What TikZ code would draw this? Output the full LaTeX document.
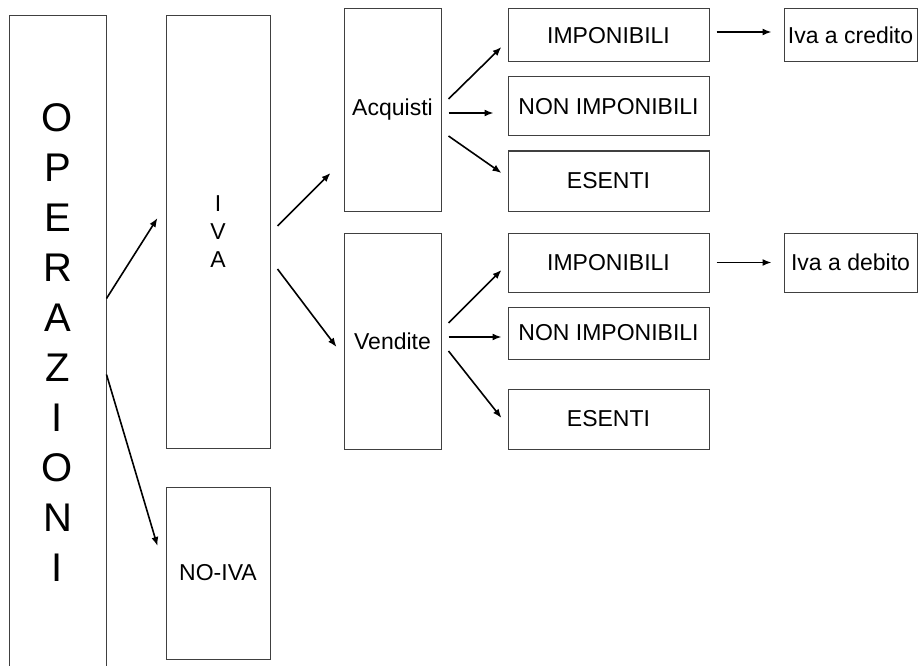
\documentclass[tikz,border=0pt]{standalone}
\usepackage{fontspec}
\setmainfont{Liberation Sans}
\usepackage{tikz}
\usetikzlibrary{positioning,calc,arrows.meta}
\definecolor{boxline}{HTML}{404040}

\tikzset{
  opbox/.style={draw=boxline, line width=1pt, inner sep=0pt, align=center,
    font=\fontsize{23}{28}\selectfont},
  opar/.style={line width=1.6pt, -{Latex[length=9pt,width=7pt]}}
}

\begin{document}
\begin{tikzpicture}[x=1pt, y=-1pt]
  \useasboundingbox (0,0) rectangle (918,666);

  % main columns
  \node[opbox, minimum width=97pt, minimum height=654pt,
        font=\fontsize{40}{50}\selectfont] (oper) at (57.5,343)
        {O\\P\\E\\R\\A\\Z\\I\\O\\N\\I};
  \node[opbox, minimum width=104pt, minimum height=432pt] (iva) at (218,232) {I\\V\\A};
  \node[opbox, minimum width=104pt, minimum height=172pt] (noiva) at (218,573) {NO-IVA};
  \node[opbox, minimum width=97pt, minimum height=202pt] (acq) at (392.5,110) {Acquisti};
  \node[opbox, minimum width=97pt, minimum height=216pt] (ven) at (392.5,341) {Vendite};

  % categories
  \node[opbox, minimum width=201pt, minimum height=53pt] (impA) at (608.5,35.5) {IMPONIBILI};
  \node[opbox, minimum width=201pt, minimum height=59pt] (nonA) at (608.5,106.5) {NON IMPONIBILI};
  \node[opbox, minimum width=201pt, minimum height=60pt] (esA) at (608.5,181) {ESENTI};
  \node[opbox, minimum width=201pt, minimum height=59pt] (impV) at (608.5,262.5) {IMPONIBILI};
  \node[opbox, minimum width=201pt, minimum height=52pt] (nonV) at (608.5,333) {NON IMPONIBILI};
  \node[opbox, minimum width=201pt, minimum height=60pt] (esV) at (608.5,419) {ESENTI};

  \node[opbox, minimum width=133pt, minimum height=53pt] (cred) at (850.5,35.5) {Iva a credito};
  \node[opbox, minimum width=133pt, minimum height=59pt] (deb) at (850.5,262.5) {Iva a debito};

  % arrows
  \draw[opar] ($(oper.east)+(0,-44.5)$) -- ($(iva.west)+(-8,-14)$);
  \draw[opar] ($(oper.east)+(0,31.5)$) -- ($(noiva.west)+(-8,-27)$);
  \draw[opar] ($(iva.east)+(7,-6)$) -- ($(acq.west)+(-13,63)$);
  \draw[opar] ($(iva.east)+(7,37)$) -- ($(ven.west)+(-7,6)$);

  \draw[opar] ($(acq.east)+(7,-11)$) -- ($(impA.west)+(-6,11.5)$);
  \draw[opar] ($(acq.east)+(7,3)$) -- ($(nonA.west)+(-14,6.5)$);
  \draw[opar] ($(acq.east)+(7,26)$) -- ($(esA.west)+(-6,-8)$);
  \draw[opar] ($(ven.east)+(7,-18)$) -- ($(impV.west)+(-6,7.5)$);
  \draw[opar] ($(ven.east)+(7,-4)$) -- ($(nonV.west)+(-6,4)$);
  \draw[opar] ($(ven.east)+(7,10)$) -- ($(esV.west)+(-6,-1)$);

  \draw[opar] ($(impA.east)+(7,-3.5)$) -- ($(cred.west)+(-12,-3.5)$);
  \draw[opar] ($(impV.east)+(7,0)$) -- ($(deb.west)+(-12,0)$);
\end{tikzpicture}
\end{document}
